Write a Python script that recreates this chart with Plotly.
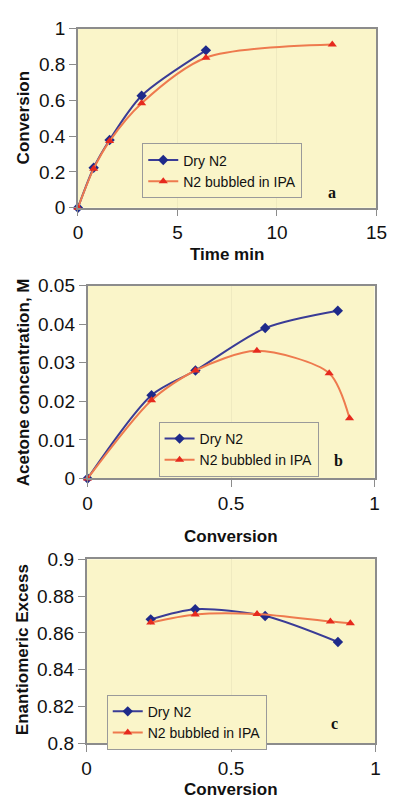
import plotly.graph_objects as go

# ---- Data ----
# Panel a: conversion vs time
time_dry = [0, 0.79, 1.59, 3.2, 6.43]
conv_time_dry = [0, 0.223, 0.378, 0.625, 0.878]
time_ipa = [0, 0.79, 1.59, 3.2, 6.43, 12.78]
conv_time_ipa = [0, 0.218, 0.372, 0.583, 0.837, 0.911]

# Panel b: acetone concentration vs conversion
conv_b_dry = [0, 0.223, 0.376, 0.619, 0.872]
acetone_dry = [0, 0.0216, 0.028, 0.039, 0.0435]
conv_b_ipa = [0, 0.223, 0.376, 0.59, 0.842, 0.913]
acetone_ipa = [0, 0.0203, 0.028, 0.0331, 0.0273, 0.0156]

# Panel c: enantiomeric excess vs conversion
conv_c_dry = [0.222, 0.376, 0.618, 0.87]
ee_dry = [0.8674, 0.8729, 0.8692, 0.8551]
conv_c_ipa = [0.222, 0.376, 0.59, 0.844, 0.913]
ee_ipa = [0.8657, 0.8701, 0.8703, 0.8662, 0.8653]

series_names = ["Dry N2", "N2 bubbled in IPA"]
panel_letters = ["a", "b", "c"]

W, H = 398, 808
FONT = "Liberation Sans, Arial, sans-serif"
BG = "#FAF5C9"
DRY_LINE = "#3A3C96"
DRY_MARK = "#1E2A8A"
IPA_LINE = "#EE7A4E"
IPA_MARK = "#E62A1E"

def px_x(p):
    return p / W

def px_y(p):
    return 1 - p / H

fig = go.Figure()

panels = [
    (time_dry, conv_time_dry, time_ipa, conv_time_ipa, "x", "y", "legend"),
    (conv_b_dry, acetone_dry, conv_b_ipa, acetone_ipa, "x2", "y2", "legend2"),
    (conv_c_dry, ee_dry, conv_c_ipa, ee_ipa, "x3", "y3", "legend3"),
]

for xd, yd, xi, yi, xa, ya, lg in panels:
    fig.add_trace(go.Scatter(
        x=xd, y=yd, name=series_names[0], mode="lines+markers",
        line=dict(color=DRY_LINE, width=2, shape="spline", smoothing=0.8),
        marker=dict(symbol="diamond", size=8, color=DRY_MARK),
        xaxis=xa, yaxis=ya, legend=lg, cliponaxis=False))
    fig.add_trace(go.Scatter(
        x=xi, y=yi, name=series_names[1], mode="lines+markers",
        line=dict(color=IPA_LINE, width=2, shape="spline", smoothing=0.8),
        marker=dict(symbol="triangle-up", size=8, color=IPA_MARK),
        xaxis=xa, yaxis=ya, legend=lg, cliponaxis=False))

# plot areas in pixels: (left, right, top, bottom)
boxes = [(76, 387, 19, 203), (86, 385, 283, 481), (85, 386, 564, 753)]
xranges = [[0, 15], [0, 1], [0, 1]]
yranges = [[0, 1], [0, 0.05], [0.8, 0.9]]
xticks = [[0, 5, 10, 15], [0, 0.5, 1], [0, 0.5, 1]]
xtext = [["0", "5", "10", "15"], ["0", "0.5", "1"], ["0", "0.5", "1"]]
yticks = [[0, 0.2, 0.4, 0.6, 0.8, 1],
          [0, 0.01, 0.02, 0.03, 0.04, 0.05],
          [0.8, 0.82, 0.84, 0.86, 0.88, 0.9]]
ytext = [["0", "0.2", "0.4", "0.6", "0.8", "1"],
         ["0", "0.01", "0.02", "0.03", "0.04", "0.05"],
         ["0.8", "0.82", "0.84", "0.86", "0.88", "0.9"]]

layout = {}
for i, (l, r, t, b) in enumerate(boxes):
    sfx = "" if i == 0 else str(i + 1)
    common = dict(showline=True, mirror=True, linecolor="#8C8C8C", linewidth=1.5,
                  ticks="outside", ticklen=7, tickcolor="#8C8C8C", tickwidth=1,
                  tickfont=dict(family=FONT, size=19, color="#111111"),
                  zeroline=False, fixedrange=True)
    layout["xaxis" + sfx] = dict(
        domain=[px_x(l), px_x(r)], range=xranges[i], anchor="y" + sfx,
        tickvals=xticks[i], ticktext=xtext[i],
        showgrid=True, gridcolor="#EFEAC0", gridwidth=1, **common)
    layout["yaxis" + sfx] = dict(
        domain=[px_y(b), px_y(t)], range=yranges[i], anchor="x" + sfx,
        tickvals=yticks[i], ticktext=ytext[i], showgrid=False, **common)

# legends (pixel boxes: left, top)
leg_pos = [(143, 137), (160, 423), (106, 703)]
for i, (lx, ly) in enumerate(leg_pos):
    key = "legend" if i == 0 else "legend" + str(i + 1)
    layout[key] = dict(
        x=px_x(lx), y=px_y(ly), xanchor="left", yanchor="top",
        bgcolor=BG, bordercolor="#9A9A9A", borderwidth=1,
        font=dict(family=FONT, size=14, color="#111111"),
        itemwidth=30, tracegroupgap=0)

fig.update_layout(
    width=W, height=H, margin=dict(l=0, r=0, t=0, b=0),
    paper_bgcolor="white", plot_bgcolor=BG,
    font=dict(family=FONT, color="#111111"),
    showlegend=True, **layout)

annotations = []
# panel letters
letter_pos = [(341, 187), (347, 463), (343, 733)]
for (lx, ly), txt in zip(letter_pos, panel_letters):
    annotations.append(dict(x=px_x(lx), y=px_y(ly), xref="paper", yref="paper",
                            xanchor="center", yanchor="middle",
                            text="<b>%s</b>" % txt, showarrow=False,
                            font=dict(family="Liberation Serif, Times New Roman, serif", size=16, color="#111111")))
# axis titles
xtitles = [("Time min", 231, 251), ("Conversion", 235, 541), ("Conversion", 235, 800)]
for txt, cx, cy in xtitles:
    annotations.append(dict(x=px_x(cx), y=px_y(cy), xref="paper", yref="paper",
                            xanchor="center", yanchor="middle",
                            text="<b>%s</b>" % txt, showarrow=False,
                            font=dict(family=FONT, size=17, color="#111111")))
ytitles = [("Conversion", 19, 110), ("Acetone concentration, M", 19, 382), ("Enantiomeric Excess", 19, 657)]
for txt, cx, cy in ytitles:
    annotations.append(dict(x=px_x(cx), y=px_y(cy), xref="paper", yref="paper",
                            xanchor="center", yanchor="middle",
                            text="<b>%s</b>" % txt, showarrow=False, textangle=-90,
                            font=dict(family=FONT, size=17, color="#111111")))
fig.update_layout(annotations=annotations)

fig.write_html("out.html")
